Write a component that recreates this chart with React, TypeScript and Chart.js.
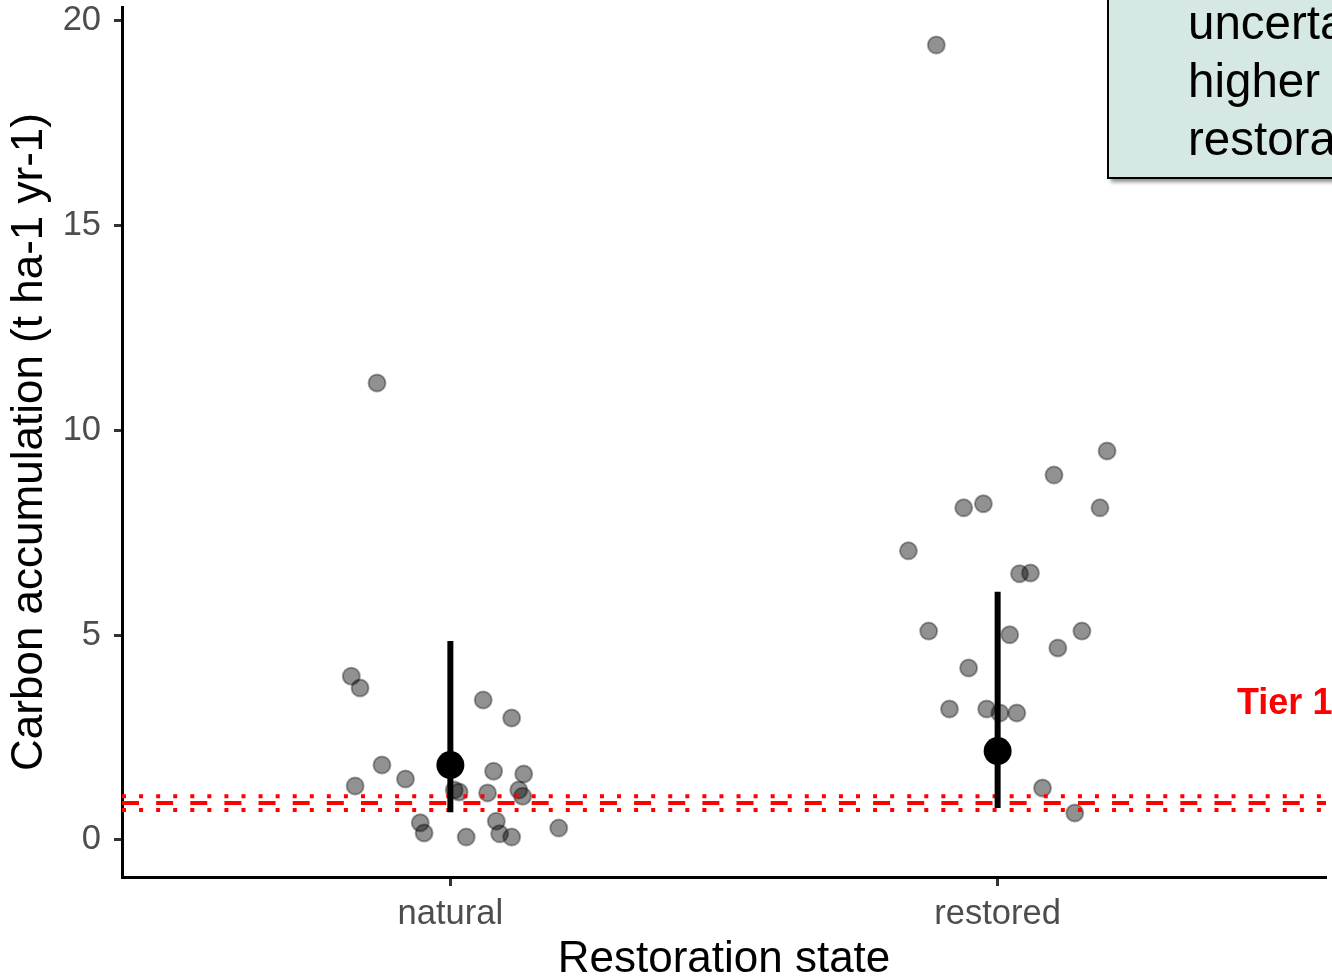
import { useEffect, useRef } from 'react';
import { Chart, registerables } from 'chart.js';
Chart.register(...registerables);

const categories = ['natural', 'restored'];
const naturalValues = [11.16, 4.0, 3.71, 3.42, 2.98, 1.83, 1.49, 1.32, 1.68, 1.61, 1.22, 1.17, 1.15, 1.22, 1.07, 0.42, 0.17, 0.07, 0.46, 0.15, 0.07, 0.29];
const naturalJitter = [-0.134, -0.181, -0.165, 0.06, 0.112, -0.125, -0.082, -0.174, 0.079, 0.134, 0.007, 0.016, 0.068, 0.125, 0.132, -0.055, -0.048, 0.029, 0.084, 0.09, 0.112, 0.198];
const restoredValues = [19.41, 9.5, 8.91, 8.11, 8.21, 8.11, 7.06, 6.5, 6.52, 5.1, 5.01, 5.1, 4.69, 4.2, 3.2, 3.2, 3.1, 3.1, 1.27, 0.66];
const restoredJitter = [-0.112, 0.2, 0.103, -0.062, -0.026, 0.187, -0.163, 0.04, 0.06, -0.126, 0.022, 0.154, 0.11, -0.053, -0.088, -0.02, 0.004, 0.035, 0.082, 0.141];
const means = [1.83, 2.17];
const lowerCI = [0.68, 0.78];
const upperCI = [4.86, 6.06];
const tier1 = 0.9;
const tier1Low = 0.73;
const tier1High = 1.07;
const yTicks = [0, 5, 10, 15, 20];
const noteLines = ['uncertainty', 'higher for', 'restoration'];
const tierLabel = 'Tier 1';

const FONT = "'Liberation Sans', Arial, sans-serif";

const annotationPlugin = {
  id: 'annot',
  afterDraw(chart: any) {
    const ctx = chart.ctx as CanvasRenderingContext2D;
    ctx.save();
    // note box
    ctx.shadowColor = 'rgba(0,0,0,0.45)';
    ctx.shadowBlur = 4;
    ctx.shadowOffsetX = 3;
    ctx.shadowOffsetY = 4;
    ctx.fillStyle = '#d5e8e3';
    ctx.fillRect(1108, -20, 400, 198);
    ctx.shadowColor = 'transparent';
    ctx.shadowBlur = 0;
    ctx.shadowOffsetX = 0;
    ctx.shadowOffsetY = 0;
    ctx.lineWidth = 2;
    ctx.strokeStyle = '#000';
    ctx.strokeRect(1108, -20, 400, 198);
    ctx.fillStyle = '#000';
    ctx.font = `47.5px ${FONT}`;
    ctx.textAlign = 'left';
    ctx.textBaseline = 'alphabetic';
    noteLines.forEach((t, i) => ctx.fillText(t, 1188, 39 + i * 58));
    // tier label
    ctx.fillStyle = '#ff0000';
    ctx.font = `bold 36px ${FONT}`;
    ctx.fillText(tierLabel, 1237, 714);
    ctx.restore();
  },
};

export default function App() {
  const ref = useRef<HTMLCanvasElement>(null);
  useEffect(() => {
    Chart.defaults.font.family = FONT;
    const pts = [
      ...naturalValues.map((v, i) => ({ x: 0 + naturalJitter[i], y: v })),
      ...restoredValues.map((v, i) => ({ x: 1 + restoredJitter[i], y: v })),
    ];
    const hline = (y: number) => [
      { x: -0.6, y },
      { x: 1.6, y },
    ];
    const chart = new Chart(ref.current!, {
      type: 'scatter',
      data: {
        datasets: [
          {
            data: means.map((m, i) => ({ x: i, y: m })),
            backgroundColor: '#000',
            borderWidth: 0,
            pointRadius: 14,
            order: 0,
          } as any,
          ...categories.map((_, i) => ({
            data: [
              { x: i, y: lowerCI[i] },
              { x: i, y: upperCI[i] },
            ],
            showLine: true,
            borderColor: '#000',
            borderWidth: 6,
            borderCapStyle: 'butt',
            pointRadius: 0,
            order: 1,
          })),
          {
            data: hline(tier1),
            showLine: true,
            borderColor: '#ff0000',
            borderWidth: 4,
            borderDash: [17, 17.14],
            borderCapStyle: 'butt',
            pointRadius: 0,
            order: 2,
          },
          {
            data: hline(tier1Low),
            showLine: true,
            borderColor: '#ff0000',
            borderWidth: 4,
            borderDash: [4, 13.07],
            borderCapStyle: 'butt',
            pointRadius: 0,
            order: 2,
          },
          {
            data: hline(tier1High),
            showLine: true,
            borderColor: '#ff0000',
            borderWidth: 4,
            borderDash: [4, 13.07],
            borderCapStyle: 'butt',
            pointRadius: 0,
            order: 2,
          },
          {
            data: pts,
            backgroundColor: 'rgba(0,0,0,0.43)',
            borderColor: 'rgba(0,0,0,0.35)',
            borderWidth: 2,
            pointRadius: 8.5,
            order: 3,
          },
        ] as any,
      },
      options: {
        responsive: false,
        animation: false,
        devicePixelRatio: 1,
        events: [],
        layout: { autoPadding: false, padding: { top: 7, right: 6, left: 0, bottom: 0 } },
        plugins: { legend: { display: false }, tooltip: { enabled: false } },
        scales: {
          x: {
            type: 'linear',
            min: -0.6,
            max: 1.6,
            afterBuildTicks: (s: any) => {
              s.ticks = categories.map((_, i) => ({ value: i }));
            },
            afterFit: (s: any) => {
              s.height = 103;
              s.paddingLeft = 0;
              s.paddingRight = 0;
              s.paddingTop = 0;
              s.paddingBottom = 0;
            },
            ticks: {
              callback: (v: any) => categories[v as number] ?? '',
              font: { size: 34.5 },
              color: '#4d4d4d',
              padding: 8,
              maxRotation: 0,
              autoSkip: false,
            },
            grid: {
              display: true,
              drawOnChartArea: false,
              drawTicks: true,
              tickLength: 9,
              tickColor: '#333',
              tickWidth: 3,
            },
            border: { display: true, color: '#000', width: 3 },
            title: {
              display: true,
              text: 'Restoration state',
              font: { size: 44, lineHeight: 1 },
              color: '#000',
              padding: { top: 0, bottom: -2 },
            },
          },
          y: {
            type: 'linear',
            min: -0.904,
            max: 20.34,
            afterBuildTicks: (s: any) => {
              s.ticks = yTicks.map((v) => ({ value: v }));
            },
            afterFit: (s: any) => {
              s.width = 122;
              s.paddingLeft = 0;
              s.paddingRight = 0;
              s.paddingTop = 0;
              s.paddingBottom = 0;
            },
            ticks: {
              font: { size: 34.5 },
              color: '#4d4d4d',
              padding: 13,
              autoSkip: false,
            },
            grid: {
              display: true,
              drawOnChartArea: false,
              drawTicks: true,
              tickLength: 8,
              tickColor: '#333',
              tickWidth: 3,
            },
            border: { display: true, color: '#000', width: 3 },
            title: {
              display: true,
              text: 'Carbon accumulation (t ha-1 yr-1)',
              font: { size: 44, lineHeight: 1 },
              color: '#000',
              padding: { top: 8, bottom: 0 },
            },
          },
        },
      },
      plugins: [annotationPlugin],
    });
    return () => chart.destroy();
  }, []);
  return (
    <div style={{ position: 'absolute', left: 0, top: 0, width: 1332, height: 980 }}>
      <canvas ref={ref} width={1332} height={980} style={{ display: 'block', width: 1332, height: 980 }} />
    </div>
  );
}
